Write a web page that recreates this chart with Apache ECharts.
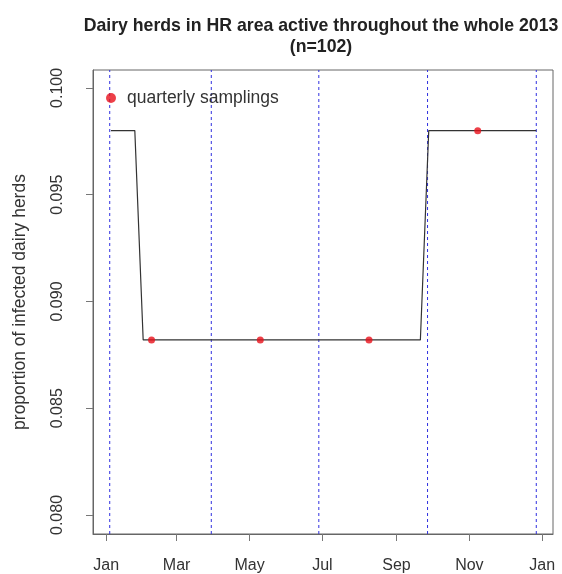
<!DOCTYPE html>
<html>
<head>
<meta charset="utf-8">
<script src="https://cdn.jsdelivr.net/npm/echarts@6/dist/echarts.min.js"></script>
<style>
  html, body { margin: 0; padding: 0; background: #fff; }
  #main { width: 562px; height: 574px; }
</style>
</head>
<body>
<div id="main"></div>
<script>
// proportion of infected herds, step curve through the year
var lineDates = ['2013-01-05', '2013-01-25', '2013-02-01', '2013-09-21', '2013-09-28', '2013-12-27'];
var lineValues = [0.0980, 0.0980, 0.0882, 0.0882, 0.0980, 0.0980];

// quarterly samplings (red points)
var sampleDates = ['2013-02-08', '2013-05-10', '2013-08-09', '2013-11-08'];
var sampleValues = [0.0882, 0.0882, 0.0882, 0.0980];

// dashed blue quarter markers
var quarterDates = ['2013-01-04', '2013-03-30', '2013-06-28', '2013-09-27', '2013-12-27'];

// axis ticks
var monthTicks = ['2013-01-01', '2013-03-01', '2013-05-01', '2013-07-01', '2013-09-01', '2013-11-01', '2014-01-01'];
var monthLabels = ['Jan', 'Mar', 'May', 'Jul', 'Sep', 'Nov', 'Jan'];
var yTicks = [0.080, 0.085, 0.090, 0.095, 0.100];

var yMin = 0.07911, yMax = 0.10084;

// days since 1 Jan 2013
function toDay(s) {
  var p = s.split('-');
  return (Date.UTC(+p[0], +p[1] - 1, +p[2]) - Date.UTC(2013, 0, 1)) / 86400000;
}
var monthDays = monthTicks.map(toDay);

// one series for all quarter markers, gaps between them
var quarterData = [];
quarterDates.forEach(function (d) {
  var x = toDay(d);
  quarterData.push([x, yMin], [x, yMax], [x, '-']);
});

var chart = echarts.init(document.getElementById('main'));
var font = 'Liberation Sans, Arial, sans-serif';
var blue = '#3030e0';

var option = {
  animation: false,
  color: [blue, '#333', '#e8101a'],
  title: {
    text: 'Dairy herds in HR area active throughout the whole 2013\n(n=102)',
    left: 316,
    top: 11,
    textAlign: 'center',
    textStyle: { fontFamily: font, fontSize: 17.7, fontWeight: 'bold', color: '#222', lineHeight: 21 }
  },
  legend: {
    left: 101,
    top: 84,
    itemWidth: 10,
    itemHeight: 10,
    textStyle: { fontFamily: font, fontSize: 17.5, color: '#333', padding: [0, 0, 0, 6] },
    data: [{ name: 'quarterly samplings', icon: 'circle' }]
  },
  grid: {
    left: 93, right: 9, top: 70, bottom: 39,
    show: true, borderColor: '#666', borderWidth: 1
  },
  xAxis: {
    type: 'value',
    min: toDay('2012-12-21'),
    max: toDay('2014-01-10'),
    axisLine: { show: true, onZero: false, lineStyle: { color: '#666' } },
    splitLine: { show: false },
    axisTick: {
      show: true, inside: false, length: 7, lineStyle: { color: '#777' },
      customValues: monthDays
    },
    axisLabel: {
      fontFamily: font, fontSize: 16, color: '#333', margin: 24,
      customValues: monthDays,
      formatter: function (v) { return monthLabels[monthDays.indexOf(v)]; }
    }
  },
  yAxis: {
    type: 'value',
    min: yMin,
    max: yMax,
    name: 'proportion of infected dairy herds',
    nameLocation: 'middle',
    nameGap: 64,
    nameTextStyle: { fontFamily: font, fontSize: 17.5, color: '#333' },
    axisLine: { show: true, onZero: false, lineStyle: { color: '#666' } },
    splitLine: { show: false },
    axisTick: {
      show: true, inside: false, length: 7, lineStyle: { color: '#777' },
      customValues: yTicks
    },
    axisLabel: {
      fontFamily: font, fontSize: 16, color: '#333', rotate: 90, margin: 27,
      customValues: yTicks,
      formatter: function (v) { return v.toFixed(3); }
    }
  },
  series: [
    {
      name: 'quarter',
      type: 'line',
      symbol: 'none',
      silent: true,
      connectNulls: false,
      itemStyle: { color: blue },
      lineStyle: { color: blue, width: 1, type: [3, 3] },
      data: quarterData,
      z: 2
    },
    {
      name: 'prop',
      type: 'line',
      symbol: 'none',
      itemStyle: { color: '#333' },
      lineStyle: { color: '#333', width: 1.2 },
      data: lineDates.map(function (d, i) { return [toDay(d), lineValues[i]]; }),
      z: 3
    },
    {
      name: 'quarterly samplings',
      type: 'scatter',
      symbol: 'circle',
      symbolSize: 7,
      itemStyle: { color: '#e8101a' },
      data: sampleDates.map(function (d, i) { return [toDay(d), sampleValues[i]]; }),
      z: 4
    }
  ]
};

chart.setOption(option);
</script>
</body>
</html>
